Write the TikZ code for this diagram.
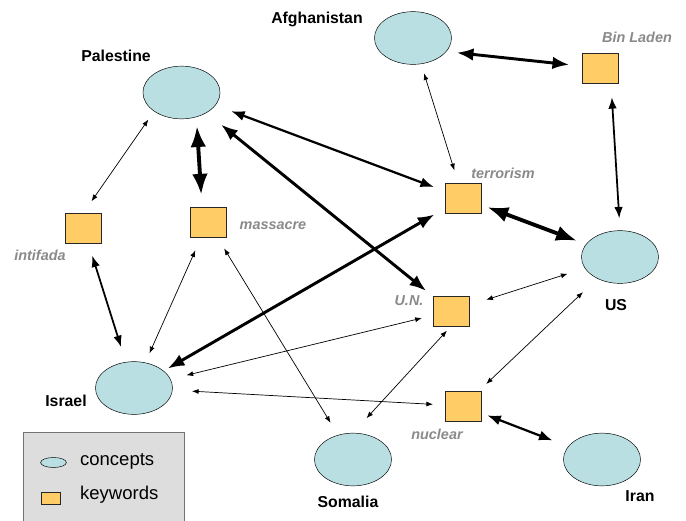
\documentclass[tikz,border=0pt]{standalone}
\usepackage{fontspec}
\setmainfont{Liberation Sans}
\usetikzlibrary{arrows.meta}
\usetikzlibrary{shapes.geometric}
\definecolor{conceptfill}{HTML}{B9DFE3}
\definecolor{keyfill}{HTML}{FFCC66}
\definecolor{tagtext}{HTML}{8A8A8A}
\definecolor{legendfill}{HTML}{DDDDDD}

\begin{document}
\begin{tikzpicture}[x=0.03cm, y=-0.03cm,
   concept/.style={ellipse, draw, fill=conceptfill, minimum width=65.8pt, minimum height=45pt, inner sep=0pt},
   keyword/.style={rectangle, draw=black!85, fill=keyfill, minimum width=30.7pt, minimum height=25.6pt, inner sep=0pt},
   cname/.style={font=\fontsize{13.5}{16}\selectfont\bfseries},
   kwtag/.style={text=tagtext, font=\fontsize{12.3}{14}\selectfont\bfseries\itshape},
   legendtext/.style={font=\fontsize{15.8}{18}\selectfont, anchor=west},
   link/.style={{Latex}-{Latex}, line width=0.6pt},
   mid/.style={line width=1.5pt},
   heavy/.style={line width=1.9pt},
   thick link/.style={line width=2.5pt},
   bold link/.style={line width=3.3pt},
   gap/.style 2 args={shorten <=#1*0.03cm, shorten >=#2*0.03cm}]
\useasboundingbox (0,0) rectangle (686,520);

\node[concept] (afg) at (413,38) {};
\node[concept] (pal) at (181.5,92.5) {};
\node[concept] (us) at (620,257) {};
\node[concept] (isr) at (134,388) {};
\node[concept] (som) at (353,459.5) {};
\node[concept] (iran) at (602,459.5) {};

\node[keyword] (bin) at (600,68) {};
\node[keyword] (ter) at (463,198) {};
\node[keyword] (int) at (83.5,228) {};
\node[keyword] (mas) at (208,222) {};
\node[keyword] (un) at (451,311) {};
\node[keyword] (nuc) at (463,406) {};

\node[cname] (afg-l) at (317,19) {Afghanistan};
\node[cname] (pal-l) at (116,56) {Palestine};
\node[cname] (us-l) at (616,305) {US};
\node[cname] (isr-l) at (66,401) {Israel};
\node[cname] (som-l) at (348,502) {Somalia};
\node[cname] (iran-l) at (640,496) {Iran};

\node[kwtag] (bin-l) at (637,37) {Bin Laden};
\node[kwtag] (ter-l) at (503,173) {terrorism};
\node[kwtag] (int-l) at (40,255) {intifada};
\node[kwtag] (mas-l) at (273,226) {massacre};
\node[kwtag] (un-l) at (409,301) {U.N.};
\node[kwtag] (nuc-l) at (437,434) {nuclear};

\draw[link, thick link, gap={44}{31}] ([yshift=-0.3cm]afg.center) -- (bin.center);
\draw[link, gap={37}{29}] (afg.center) -- (ter.center);
\draw[link, mid, gap={14}{12}] ([xshift=0.33cm]bin.south) -- (us.north);
\draw[link, heavy, gap={53}{31}] (pal.center) -- (ter.center);
\draw[link, thick link, gap={51}{32}] (pal.center) -- (un.center);
\draw[link, bold link, gap={7}{12}] ([xshift=0.45cm]pal.south) -- ([xshift=-0.18cm]mas.north);
\draw[link, gap={10}{14}] (pal.south west) -- (int.north);
\draw[link, bold link, gap={26}{46}] (ter.center) -- (us.center);
\draw[link, thick link, gap={33}{39}] (ter.center) -- (isr.center);
\draw[link, mid, gap={29}{43}] (int.center) -- (isr.center);
\draw[link, gap={31}{38}] (mas.center) -- (isr.center);
\draw[link, gap={31}{43}] (mas.center) -- (som.center);
\draw[link, gap={37}{55}] (un.center) -- (us.center);
\draw[link, gap={30}{54}] (un.center) -- (isr.center);
\draw[link, gap={6}{20}] (un.south) -- (som.north);
\draw[link, gap={32}{51}] (nuc.center) -- (us.center);
\draw[link, gap={30}{58}] (nuc.center) -- (isr.center);
\draw[link, heavy, gap={26}{53}] (nuc.center) -- (iran.center);

\draw[draw=black!55, fill=legendfill] (23,432) rectangle (184,530);
\node[ellipse, draw, fill=conceptfill, minimum width=22pt, minimum height=8.5pt, inner sep=0pt] (key-c) at (53.5,462.5) {};
\node[rectangle, draw=black!85, fill=keyfill, minimum width=16pt, minimum height=10pt, inner sep=0pt] (key-k) at (50.5,498) {};
\node[legendtext] (key-c-l) at (76,461) {concepts};
\node[legendtext] (key-k-l) at (76,495) {keywords};
\end{tikzpicture}
\end{document}
